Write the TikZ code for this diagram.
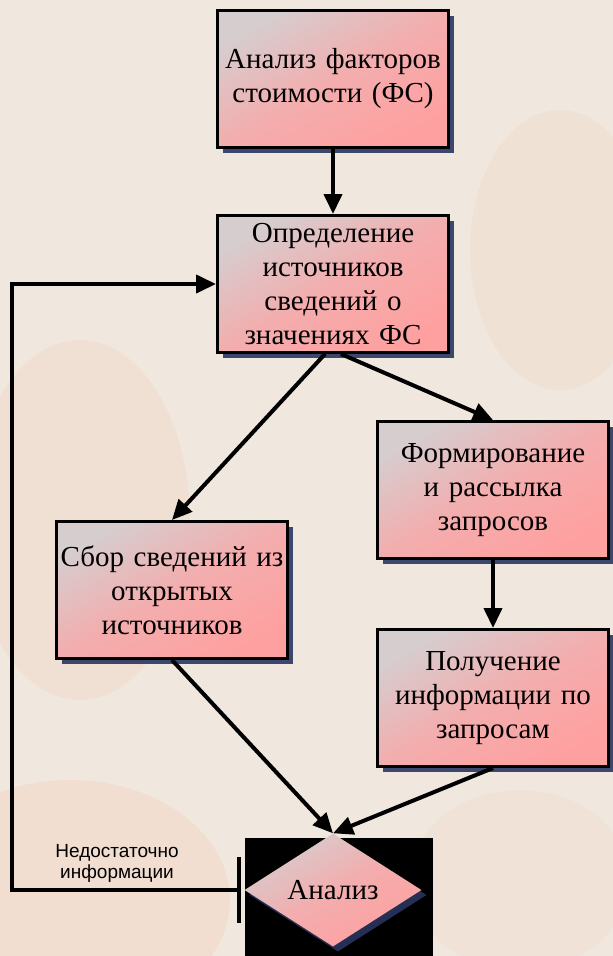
\documentclass[tikz,border=0pt]{standalone}
\usepackage{fontspec}
\setmainfont{Liberation Serif}
\newfontfamily\notefont{Liberation Sans}
\usetikzlibrary{arrows.meta}
\usetikzlibrary{shadows}
\usetikzlibrary{shapes.geometric}
\definecolor{paper}{HTML}{F0E8DF}
\definecolor{blob}{HTML}{F3CDB8}
\definecolor{boxgray}{HTML}{D6CDCF}
\definecolor{boxpink}{HTML}{FFA0A0}
\definecolor{shadowblue}{HTML}{2A3560}

\begin{document}
\begin{tikzpicture}[x=1pt,y=-1pt,
  block/.style={draw=black,line width=3pt,top color=boxgray,bottom color=boxpink,middle color=boxpink!70!boxgray,shading angle=30,
    drop shadow={shadow xshift=5pt,shadow yshift=-5pt,fill=shadowblue,opacity=0.9},
    minimum width=231pt,minimum height=137pt,text width=226pt,align=center,inner sep=2pt,
    font=\fontsize{29}{34}\selectfont},
  decision/.style={diamond,draw=none,top color=boxgray,bottom color=boxpink,middle color=boxpink!70!boxgray,shading angle=30,
    drop shadow={shadow xshift=5pt,shadow yshift=-5pt,fill=shadowblue,opacity=0.9},
    minimum width=177pt,minimum height=113pt,inner sep=0pt,font=\fontsize{29}{34}\selectfont},
  note/.style={align=center,font=\notefont\fontsize{19}{21}\selectfont},
  flow/.style={line width=4pt,-{Triangle[length=20pt,width=18pt]}}]
% background
\path[use as bounding box,fill=paper] (0,0) rectangle (613,956);
\fill[blob,opacity=0.3] (80,520) ellipse (110 and 180);
\fill[blob,opacity=0.35] (70,900) ellipse (160 and 120);
\fill[blob,opacity=0.25] (560,250) ellipse (90 and 140);
\fill[blob,opacity=0.2] (520,880) ellipse (110 and 90);

\node[block] (fa) at (333,79) {Анализ факторов\\стоимости (ФС)};
\node[block] (src) at (333,284) {Определение\\источников\\сведений о\\значениях ФС};
\node[block] (req) at (493,490) {Формирование\\и рассылка\\запросов};
\node[block] (recv) at (493,698) {Получение\\информации по\\запросам};
\node[block] (open) at (172,590) {Сбор сведений из\\открытых\\источников};

\fill[black] (245,838) rectangle (433,956);
\node[decision] (an) at (333,890) {Анализ};
\node[note] (lack) at (117,863) {Недостаточно\\информации};
\coordinate (loop) at (12,890);

\draw[flow] (fa)--(src);
\draw[flow] ([xshift=-8pt]src.south)--(open.north); \draw[flow] ([xshift=8pt]src.south)--(req.north);
\draw[flow] (req)--(recv);
\draw[flow] (open.south)--(an.north); \draw[flow] (recv.south)--(an.north);
\draw[line width=4pt,{Bar[width=66pt]}-{Triangle[length=20pt,width=18pt]}] ([xshift=-3pt]an.west)--(loop)|-(src.west);
\end{tikzpicture}
\end{document}
